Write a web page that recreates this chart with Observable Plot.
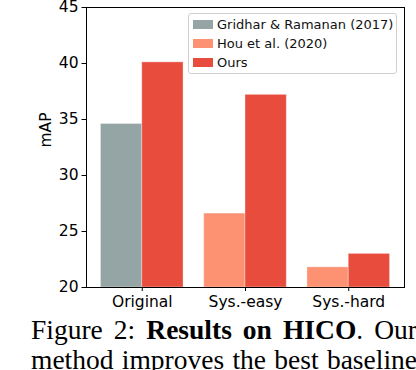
<!DOCTYPE html>
<html><head><meta charset="utf-8">
<script src="https://cdn.jsdelivr.net/npm/d3@7"></script>
<script src="https://cdn.jsdelivr.net/npm/@observablehq/plot@0.6"></script>
<style>
body{margin:0;background:#fff;overflow:hidden;width:416px;height:370px;}
#wrap{position:relative;width:416px;height:370px;overflow:hidden;}
#chart svg{display:block;}
#legend{position:absolute;left:188px;top:13px;width:207px;height:59px;border:1px solid #d0d0d0;border-radius:3px;background:rgba(255,255,255,0.8);font-family:"DejaVu Sans";font-size:13px;color:#111;}
.row{position:absolute;left:4px;height:19px;display:flex;align-items:center;white-space:nowrap;}
.sw{width:20px;height:9px;margin-right:4px;}
#caption{font-family:"Liberation Serif";font-size:27.5px;line-height:30px;margin-left:31px;margin-top:3px;width:386px;color:#000;}
#caption div{text-align:justify;text-align-last:justify;}
</style>
</head><body>
<div id="wrap">
<div id="chart"></div>
<div id="legend"></div>
<div id="caption"><div>Figure 2: <b>Results on HICO</b>. Our</div><div>method improves the best baseline</div></div>
</div>
<script>
const categories = ["Original", "Sys.-easy", "Sys.-hard"];
const series = ["Gridhar & Ramanan (2017)", "Hou et al. (2020)", "Ours"];
const colors = ["#95a5a6", "#fc9272", "#e74c3c"];
const gridhar = [34.6, null, null];
const hou = [null, 26.6, 21.8];
const ours = [40.1, 37.2, 23.0];
const yTicks = [20, 25, 30, 35, 40, 45];
const yDomain = [20, 45];
const yLabel = "mAP";

const barW = 0.4;
const rows = [];
categories.forEach((c, i) => {
  [[gridhar, 0, 0], [hou, 1, 0], [ours, 2, 1]].forEach(([arr, s, slot]) => {
    const v = arr[i];
    if (v == null) return;
    const x1 = i - barW + slot * barW;
    rows.push({category: c, series: series[s], value: v, x1, x2: x1 + barW});
  });
});

const chart = Plot.plot({
  width: 416, height: 312,
  marginLeft: 86, marginRight: 12, marginTop: 7, marginBottom: 25,
  style: {fontFamily: "DejaVu Sans", fontSize: "15.5px", color: "#000", background: "transparent", overflow: "visible"},
  x: {domain: [-0.54, 2.54]},
  y: {domain: yDomain},
  color: {domain: series, range: colors},
  marks: [
    Plot.rectY(rows, {x1: "x1", x2: "x2", y1: () => yDomain[0], y2: "value", fill: "series", stroke: "white", strokeOpacity: 0.35, strokeWidth: 1}),
    Plot.axisX({ticks: [0, 1, 2], tickFormat: i => categories[i], tickSize: 4, tickPadding: 4, label: null}),
    Plot.axisY({ticks: yTicks, tickSize: 4.5, tickPadding: 3.5, label: null}),
    Plot.text([yLabel], {text: d => d, frameAnchor: "left", rotate: -90, dx: -40, fontSize: 15.5, fill: "#000"}),
    Plot.frame({stroke: "#000"})
  ]
});
document.getElementById("chart").appendChild(chart);

const legend = document.getElementById("legend");
series.forEach((s, k) => {
  const r = document.createElement("div");
  r.className = "row";
  r.style.top = (0.5 + k * 19) + "px";
  const sw = document.createElement("span");
  sw.className = "sw";
  sw.style.background = colors[k];
  const t = document.createElement("span");
  t.textContent = s;
  r.appendChild(sw); r.appendChild(t);
  legend.appendChild(r);
});
</script>
</body></html>
